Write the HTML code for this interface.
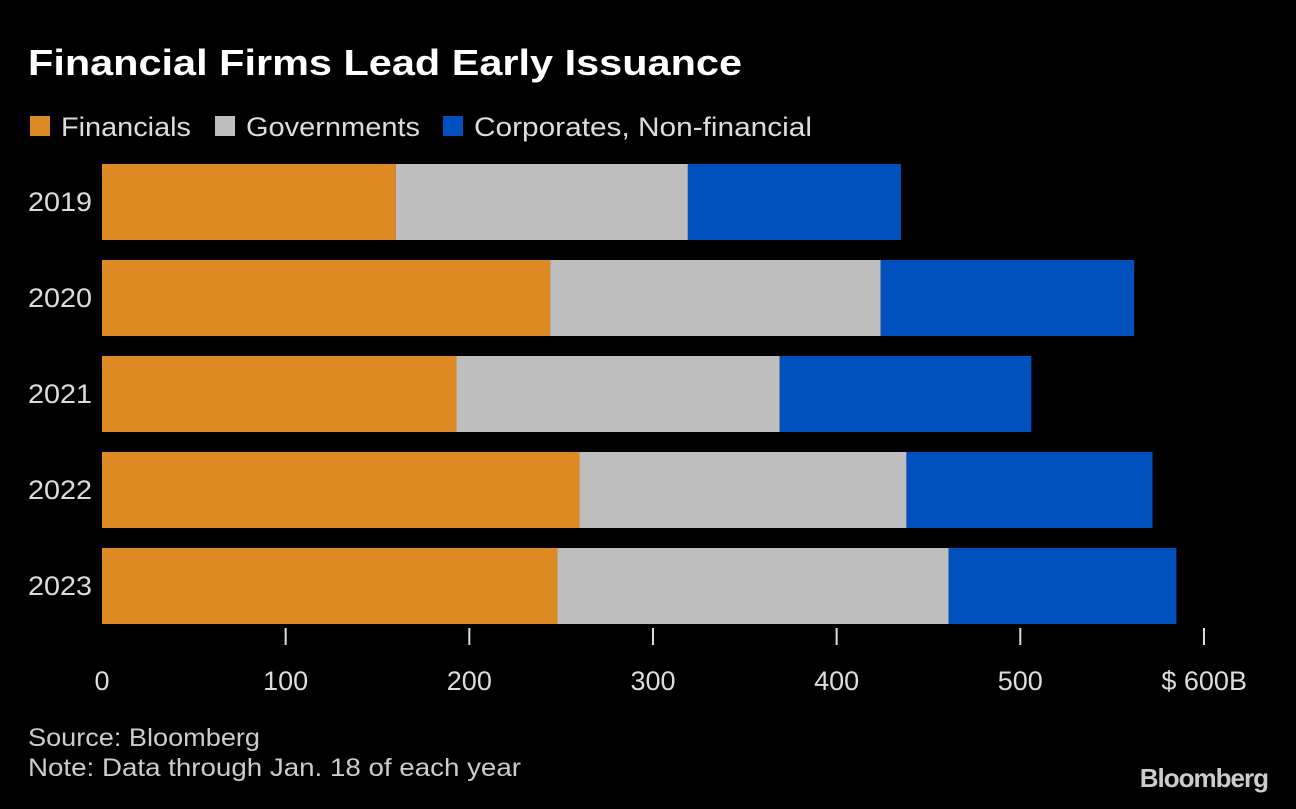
<!DOCTYPE html>
<html><head><meta charset="utf-8"><style>
body{margin:0;background:#000;width:1296px;height:804px;overflow:hidden;font-family:"Liberation Sans",sans-serif;}
svg text{font-family:"Liberation Sans",sans-serif;}
</style></head><body>
<svg id="c" width="1296" height="804">
<text x="28" y="75" fill="#fff" font-size="36" font-weight="bold" textLength="714" lengthAdjust="spacingAndGlyphs">Financial Firms Lead Early Issuance</text>
<g>
<rect x="30" y="116" width="20" height="20" fill="#dd8a25"/>
<text x="61" y="136" fill="#ddd" font-size="27" textLength="130" lengthAdjust="spacingAndGlyphs">Financials</text>
<rect x="215" y="116" width="20" height="20" fill="#bebebe"/>
<text x="246" y="136" fill="#ddd" font-size="27" textLength="174" lengthAdjust="spacingAndGlyphs">Governments</text>
<rect x="443" y="116" width="20" height="20" fill="#0051bd"/>
<text x="474" y="136" fill="#ddd" font-size="27" textLength="338" lengthAdjust="spacingAndGlyphs">Corporates, Non-financial</text>
</g>
<g id="bars"></g>
<g id="axis"></g>
<text x="28" y="746" fill="#ccc" font-size="25" textLength="232" lengthAdjust="spacingAndGlyphs">Source: Bloomberg</text>
<text x="28" y="776" fill="#ccc" font-size="25" textLength="493" lengthAdjust="spacingAndGlyphs">Note: Data through Jan. 18 of each year</text>
<text x="1268" y="787" fill="#ccc" font-size="26" font-weight="bold" text-anchor="end" letter-spacing="-1">Bloomberg</text>
</svg>
<script>
const years=["2019","2020","2021","2022","2023"];
const financials=[160,244,193,260,248];
const governments=[159,180,176,178,213];
const corporates=[116,138,137,134,124];
const ticks=[100,200,300,400,500,600];
const tickLabels=["0","100","200","300","400","500","$ 600B"];
const NS="http://www.w3.org/2000/svg";
const x=v=>102+v*1.8366;
const yTop=i=>164+i*96;
const bars=document.getElementById('bars'),axis=document.getElementById('axis');
function mk(tag,attrs,parent){const e=document.createElementNS(NS,tag);for(const k in attrs)e.setAttribute(k,attrs[k]);parent.appendChild(e);return e;}
const series=[[financials,"#dd8a25","financials"],[governments,"#bebebe","governments"],[corporates,"#0051bd","corporates"]];
years.forEach((yr,i)=>{
  let acc=0;
  series.forEach(([arr,col,nm])=>{
    const r=mk('rect',{x:x(acc),y:yTop(i),width:x(acc+arr[i])-x(acc),height:76,fill:col},bars);
    
    
    acc+=arr[i];
  });
  const t=mk('text',{x:92,y:yTop(i)+47,fill:'#ddd','font-size':27,'text-anchor':'end',textLength:64,lengthAdjust:'spacingAndGlyphs'},axis);
  t.textContent=yr;
  
  
});
ticks.forEach(v=>{
  const l=mk('line',{x1:x(v),x2:x(v),y1:628,y2:645,stroke:'#ddd','stroke-width':2},axis);
  
  
});
[0,...ticks].forEach((v,i)=>{
  const last=i===tickLabels.length-1;
  const t=mk('text',{x:last?x(v)+43:x(v),y:690,fill:'#ddd','font-size':27,'text-anchor':last?'end':'middle'},axis);
  t.textContent=tickLabels[i];
  
  
});
</script>
</body></html>
